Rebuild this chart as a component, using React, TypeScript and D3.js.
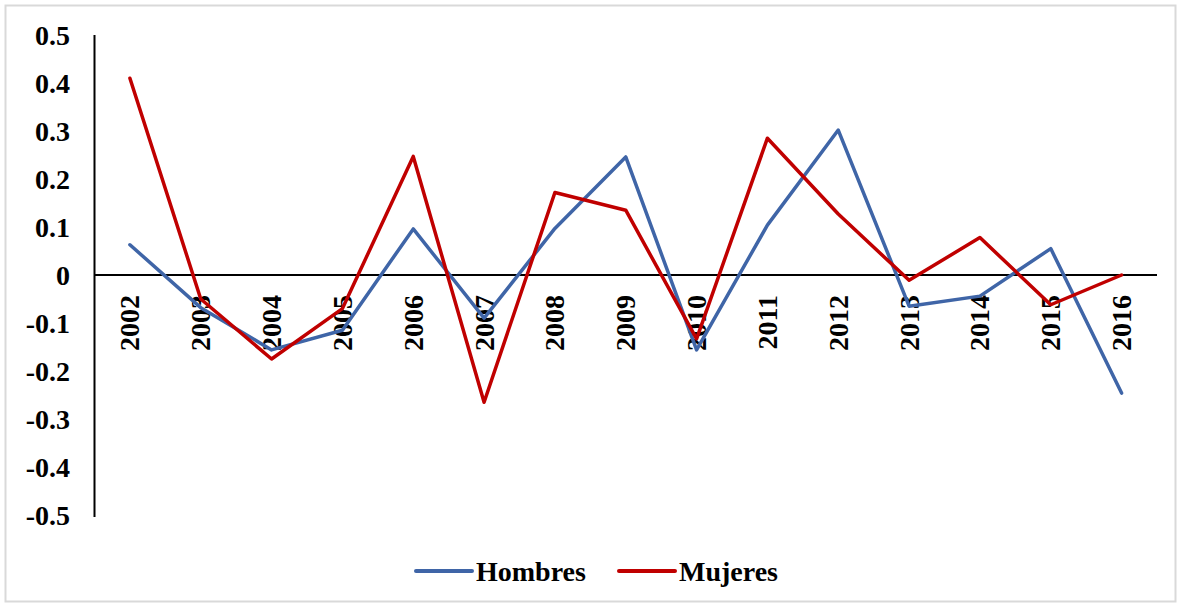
import React from "react";
import * as d3 from "d3";

const years = ["2002","2003","2004","2005","2006","2007","2008","2009","2010","2011","2012","2013","2014","2015","2016"];
const hombres = [0.063,-0.068,-0.156,-0.115,0.096,-0.09,0.097,0.246,-0.156,0.104,0.302,-0.065,-0.044,0.055,-0.246];
const mujeres = [0.41,-0.05,-0.175,-0.07,0.247,-0.265,0.172,0.135,-0.133,0.285,0.127,-0.011,0.078,-0.062,0.0];
const yTicks = [0.5,0.4,0.3,0.2,0.1,0,-0.1,-0.2,-0.3,-0.4,-0.5];
const yTickLabels = ["0.5","0.4","0.3","0.2","0.1","0","-0.1","-0.2","-0.3","-0.4","-0.5"];
const seriesNames = ["Hombres","Mujeres"];
const seriesColors = ["#3F65A7","#C00000"];

const W = 1181, H = 607;
const left = 94.5, right = 1157, top = 35, bottom = 515;
const font = "'Liberation Serif', 'Times New Roman', serif";

export default function App() {
  const x = d3.scaleBand().domain(years).range([left, right]);
  const y = d3.scaleLinear().domain([-0.5, 0.5]).range([bottom, top]);
  const line = d3.line<number>()
    .x((_, i) => (x(years[i]) as number) + x.bandwidth() / 2)
    .y((d) => y(d));
  const series = [hombres, mujeres];
  const legendX = [416, 619];
  return (
    <svg width={W} height={H} style={{ position: "absolute", left: 0, top: 0, background: "#fff" }}
      fontFamily={font} fontWeight="bold">
      <rect x={5.5} y={5.5} width={1170} height={596} fill="#fff" stroke="#d9d9d9" strokeWidth={2} />
      {/* y axis */}
      <line x1={left} x2={left} y1={top} y2={bottom + 2} stroke="#000" strokeWidth={2} />
      {yTicks.map((t, i) => (
        <text key={t} x={70} y={y(t)} dy="0.35em" textAnchor="end" fontSize={28} fill="#000">
          {yTickLabels[i]}
        </text>
      ))}
      {/* zero line */}
      <line x1={left} x2={right} y1={y(0)} y2={y(0)} stroke="#000" strokeWidth={2} />
      {years.map((yr) => {
        const cx = (x(yr) as number) + x.bandwidth() / 2;
        return (
          <text key={yr} transform={`translate(${cx + 9.5},${295}) rotate(-90)`} textAnchor="end"
            fontSize={28} fill="#000">
            {yr}
          </text>
        );
      })}
      {series.map((s, i) => (
        <path key={i} d={line(s) as string} fill="none" stroke={seriesColors[i]} strokeWidth={3.5}
          strokeLinejoin="round" strokeLinecap="round" />
      ))}
      {seriesNames.map((n, i) => (
        <g key={n}>
          <line x1={legendX[i]} x2={legendX[i] + 56} y1={571} y2={571} stroke={seriesColors[i]}
            strokeWidth={4} strokeLinecap="round" />
          <text x={legendX[i] + 60} y={571} dy="0.35em" fontSize={28} fill="#000">{n}</text>
        </g>
      ))}
    </svg>
  );
}
